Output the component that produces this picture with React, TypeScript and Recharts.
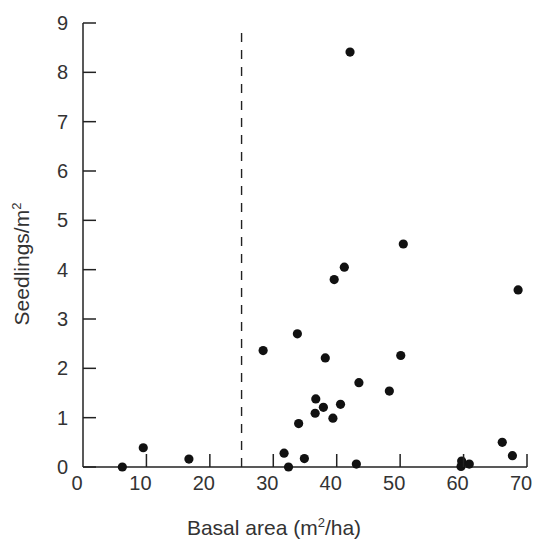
import { ReferenceLine, Scatter, ScatterChart, XAxis, YAxis } from 'recharts';

// basal area (m2/ha) vs seedlings per m2, one entry per plot
const basalArea = [
  42.1, 50.5, 41.2, 39.6, 68.6, 33.8, 28.4, 38.2, 50.1, 43.5, 48.3, 36.7, 37.9, 40.6, 36.6,
  39.4, 34.0, 9.5, 16.7, 6.2, 31.7, 32.4, 34.9, 43.1, 59.7, 59.6, 60.9, 66.1, 67.7,
];
const seedlings = [
  8.41, 4.52, 4.05, 3.8, 3.59, 2.7, 2.36, 2.21, 2.26, 1.71, 1.54, 1.38, 1.21, 1.27, 1.09,
  0.99, 0.88, 0.39, 0.16, 0.0, 0.28, 0.0, 0.17, 0.06, 0.12, 0.01, 0.06, 0.5, 0.23,
];

const xTicks = [0, 10, 20, 30, 40, 50, 60, 70];
const yTicks = [0, 1, 2, 3, 4, 5, 6, 7, 8, 9];
const threshold = 25;
const thresholdTop = 8.8;

const points = basalArea.map((x, i) => ({ x, y: seedlings[i] }));

const INK = '#222';
const TEXT = '#333';
const FONT = 'Arial, "Liberation Sans", Helvetica, sans-serif';

const YTick = ({ x, y, payload }: any) => (
  <g>
    <line x1={x} y1={y} x2={x + 13} y2={y} stroke={INK} strokeWidth={1.5} />
    <text
      x={x - 15}
      y={y}
      textAnchor="end"
      dominantBaseline="central"
      fill={TEXT}
      fontSize={20}
      fontFamily={FONT}
    >
      {payload.value}
    </text>
  </g>
);

const XTick = ({ x, y, payload }: any) => (
  <g>
    {payload.value !== 0 && (
      <line x1={x} y1={y} x2={x} y2={y - 13} stroke={INK} strokeWidth={1.5} />
    )}
    <text
      x={x - 6}
      y={y + 16}
      textAnchor="middle"
      dominantBaseline="central"
      fill={TEXT}
      fontSize={20}
      fontFamily={FONT}
    >
      {payload.value}
    </text>
  </g>
);

const Dot = ({ cx, cy }: any) => <circle cx={cx} cy={cy} r={4.6} fill="#111" />;

export default function App() {
  return (
    <div style={{ position: 'absolute', left: 0, top: 0, background: '#fff' }}>
      <ScatterChart width={536} height={544} margin={{ top: 23, right: 9, bottom: 0, left: 0 }}>
        <XAxis
          type="number"
          dataKey="x"
          domain={[0, 70]}
          ticks={xTicks}
          interval={0}
          height={77}
          tickSize={0}
          tickMargin={0}
          tickLine={false}
          axisLine={{ stroke: INK, strokeWidth: 1.5 }}
          tick={<XTick />}
          label={() => (
            <text
              x={274}
              y={535}
              textAnchor="middle"
              fill={TEXT}
              fontSize={21}
              fontFamily={FONT}
            >
              Basal area (m
              <tspan dy={-8} fontSize={13}>
                2
              </tspan>
              <tspan dy={8}>/ha)</tspan>
            </text>
          )}
        />
        <YAxis
          type="number"
          dataKey="y"
          domain={[0, 9]}
          ticks={yTicks}
          interval={0}
          width={83}
          tickSize={0}
          tickMargin={0}
          tickLine={false}
          axisLine={{ stroke: INK, strokeWidth: 1.5 }}
          tick={<YTick />}
          label={() => (
            <text
              x={0}
              y={0}
              transform="translate(29 264) rotate(-90)"
              textAnchor="middle"
              fill={TEXT}
              fontSize={21}
              fontFamily={FONT}
            >
              Seedlings/m
              <tspan dy={-8} fontSize={13}>
                2
              </tspan>
            </text>
          )}
        />
        <ReferenceLine
          segment={[
            { x: threshold, y: 0 },
            { x: threshold, y: thresholdTop },
          ]}
          stroke={INK}
          strokeWidth={1.4}
          strokeDasharray="9 8"
        />
        <Scatter data={points} shape={<Dot />} isAnimationActive={false} />
      </ScatterChart>
    </div>
  );
}
